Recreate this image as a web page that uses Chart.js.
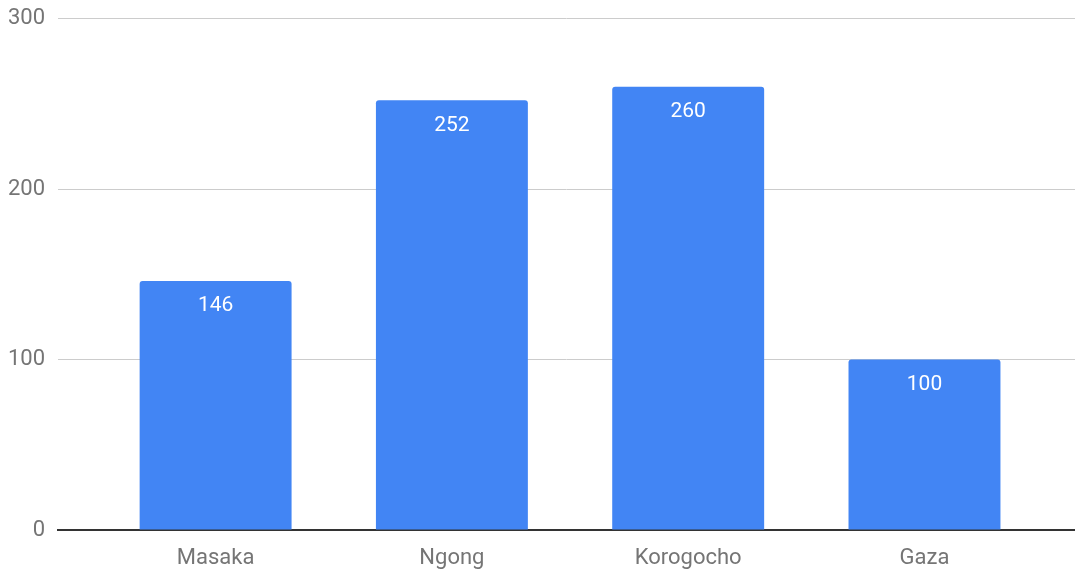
<!DOCTYPE html>
<html>
<head>
<meta charset="utf-8">
<script src="https://cdn.jsdelivr.net/npm/chart.js@4"></script>
<style>
html,body{margin:0;padding:0;background:#fff;}
#wrap{width:1075px;height:572px;position:relative;}
</style>
</head>
<body>
<div id="wrap"><canvas id="c"></canvas></div>
<script>
const categories = ["Masaka", "Ngong", "Korogocho", "Gaza"];
const values = [146, 252, 260, 100];
const yTicks = [0, 100, 200, 300];

const FONT = "Roboto";

const valueLabels = {
  id: 'valueLabels',
  afterDatasetsDraw(chart) {
    const ctx = chart.ctx;
    const meta = chart.getDatasetMeta(0);
    ctx.save();
    ctx.fillStyle = '#ffffff';
    ctx.font = '21px ' + FONT;
    ctx.textAlign = 'center';
    ctx.textBaseline = 'middle';
    meta.data.forEach((el, i) => {
      ctx.fillText(String(values[i]), el.x, el.y + 25);
    });
    ctx.restore();
  }
};

new Chart(document.getElementById('c'), {
  type: 'bar',
  data: {
    datasets: [{
      data: values.map((v, i) => ({x: i, y: v})),
      backgroundColor: '#4285F4',
      borderRadius: 3,
      borderSkipped: 'bottom',
      barPercentage: 0.643,
      categoryPercentage: 1
    }]
  },
  options: {
    responsive: true,
    maintainAspectRatio: false,
    animation: false,
    layout: {padding: {top: 17, right: 0, bottom: 0, left: 0}},
    plugins: {legend: {display: false}, tooltip: {enabled: false}},
    scales: {
      x: {
        type: 'linear',
        offset: false,
        min: -0.667,
        max: 3.637,
        grid: {display: false},
        border: {display: true, color: '#333333', width: 2},
        ticks: {
          stepSize: 1,
          includeBounds: false,
          autoSkip: false,
          maxRotation: 0,
          padding: 7,
          color: '#757575',
          font: {family: FONT, size: 22},
          callback: (v) => (Number.isInteger(v) && categories[v] !== undefined) ? categories[v] : ''
        },
        afterFit: (s) => { s.height = 42; }
      },
      y: {
        min: yTicks[0],
        max: yTicks[yTicks.length - 1],
        grid: {color: '#cccccc', lineWidth: 1, drawTicks: false},
        border: {display: false},
        ticks: {
          stepSize: 100,
          padding: 13,
          color: '#757575',
          font: {family: FONT, size: 22, lineHeight: 0.5}
        },
        afterFit: (s) => { s.width = 58; }
      }
    }
  },
  plugins: [valueLabels]
});
</script>
</body>
</html>
